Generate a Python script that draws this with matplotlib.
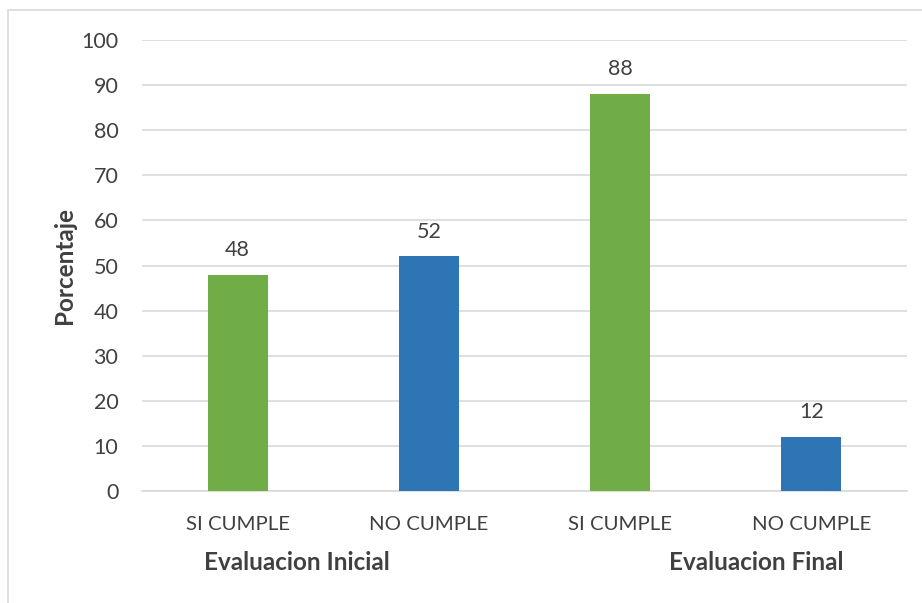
import matplotlib.pyplot as plt
from matplotlib.patches import Rectangle

plt.rcParams['font.family'] = ['Lato', 'DejaVu Sans']

categories = ['SI CUMPLE', 'NO CUMPLE', 'SI CUMPLE', 'NO CUMPLE']
values = [48, 52, 88, 12]
colors = ['#70AD47', '#2E75B6', '#70AD47', '#2E75B6']
groups = ['Evaluacion Inicial', 'Evaluacion Final']
group_x = [0.31, 2.71]
yticks = list(range(0, 101, 10))

text_col = '#404040'

fig = plt.figure(figsize=(9.22, 6.03), dpi=100)
ax = fig.add_axes([142/922, 1 - 491/603, (907 - 142)/922, (491 - 40)/603])

x = list(range(len(categories)))
bars = ax.bar(x, values, width=0.315, color=colors, zorder=3)
for b, v in zip(bars, values):
    ax.text(b.get_x() + b.get_width()/2, v + 3.3, str(v), ha='center', va='bottom',
            fontsize=15.5, color=text_col)

ax.set_xlim(-0.5, 3.5)
ax.set_ylim(0, 100)
ax.set_yticks(yticks)
ax.set_xticks(x)
ax.set_xticklabels(categories, fontsize=14.7)
ax.tick_params(axis='both', length=0, colors=text_col)
ax.tick_params(axis='y', labelsize=15.5, pad=17)
ax.tick_params(axis='x', pad=18)
ax.yaxis.grid(True, color='#D9D9D9', linewidth=1.2, zorder=0)
for s in ['top', 'right', 'left']:
    ax.spines[s].set_visible(False)
ax.spines['bottom'].set_color('#D9D9D9')
ax.spines['bottom'].set_linewidth(1.2)

ax.set_ylabel('Porcentaje', fontsize=17.5, fontweight='bold', color=text_col, labelpad=4)

for g, gx in zip(groups, group_x):
    ax.text(gx, -15.8, g, ha='center', va='center', fontsize=17.5, fontweight='bold',
            color=text_col, transform=ax.transData, clip_on=False)

# light outer frame of the chart area
fig.patches.append(Rectangle((8/922, -0.01), 1.0, 1 - 10/603 + 0.01,
                             transform=fig.transFigure, fill=False,
                             edgecolor='#D9D9D9', linewidth=1.2))

fig.savefig('out.png', dpi=100)
